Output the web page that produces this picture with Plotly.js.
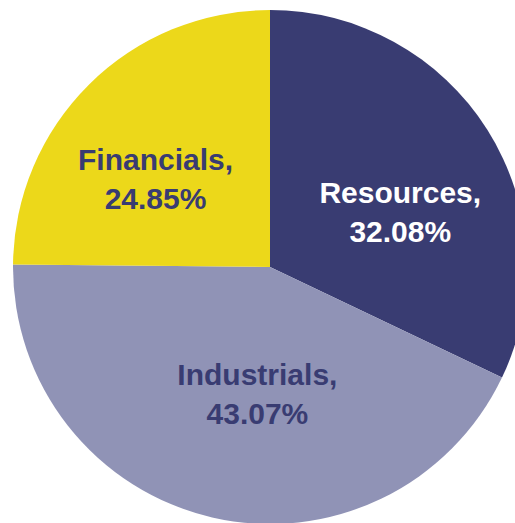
<!DOCTYPE html>
<html>
<head>
<meta charset="utf-8">
<script src="https://cdn.plot.ly/plotly-3.0.1.min.js"></script>
<style>
  html, body { margin: 0; padding: 0; overflow: hidden; background: #fff; }
</style>
</head>
<body>
<div id="plotPie"></div>
<script>
// sector weights, in percent
var sectors = ["Resources", "Industrials", "Financials"];
var weights = [32.08, 43.07, 24.85];
var sliceColors = ["#393C72", "#9093B6", "#ECD81A"];
var labelColors = ["#FFFFFF", "#393C72", "#393C72"];

// blank lines / non-breaking spaces nudge each label block inside its slice
var sp = "\u00A0";
var body = "<b>%{label},<br>%{value:.2f}%</b>";
var lpad = function (n) { return sp.repeat(n); };
var labelTemplates = [
    sp + "<br>" + lpad(3) + "<b>%{label},</b><br>" + lpad(3) + "<b>%{value:.2f}%</b>",
    lpad(4) + "<b>%{label},</b><br>" + lpad(4) + "<b>%{value:.2f}%</b>",
    sp + "<br><b>%{label},</b>" + lpad(2) + "<br><b>%{value:.2f}%</b>" + lpad(2)
];

var trace = {
    labels: sectors,
    values: weights,
    type: "pie",
    sort: false,
    direction: "clockwise",
    rotation: 0,
    marker: {colors: sliceColors, line: {width: 0}},
    texttemplate: labelTemplates,
    textposition: "inside",
    insidetextorientation: "horizontal",
    textfont: {family: "Liberation Sans", size: 30, color: labelColors},
    hoverinfo: "none"
};

var layout = {
    width: 540,
    height: 530,
    margin: {l: 13, r: 13, t: 10, b: 6},
    showlegend: false,
    paper_bgcolor: "#FFFFFF"
};

Plotly.newPlot("plotPie", [trace], layout, {displayModeBar: false, staticPlot: true});
</script>
</body>
</html>
